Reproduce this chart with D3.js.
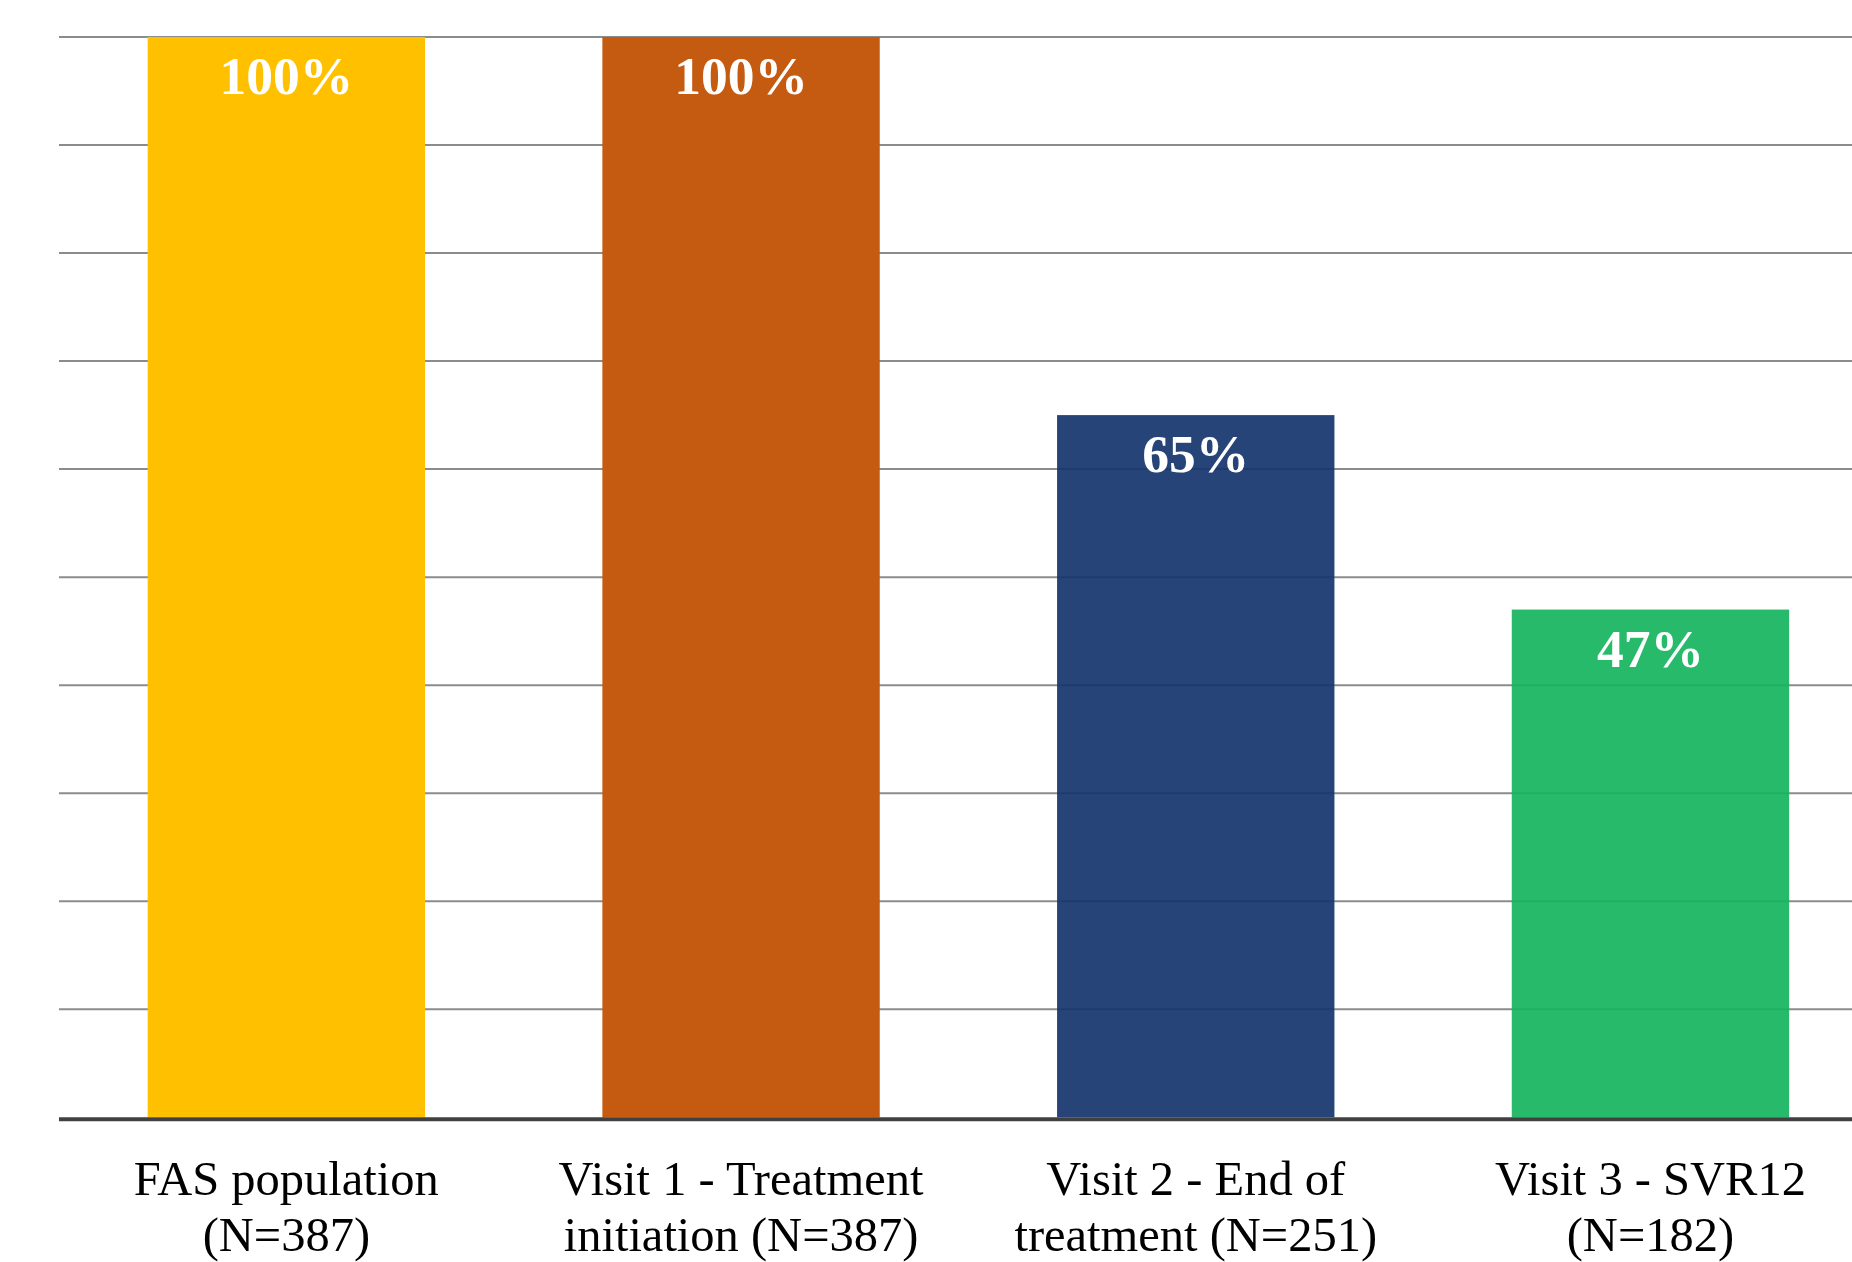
<!DOCTYPE html>
<html>
<head>
<meta charset="utf-8">
<script src="https://cdn.jsdelivr.net/npm/d3@7"></script>
<style>
html,body{margin:0;padding:0;background:#fff;overflow:hidden;}
svg{display:block;}
</style>
</head>
<body>
<script>
const categories = ["FAS population (N=387)", "Visit 1 - Treatment initiation (N=387)", "Visit 2 - End of treatment (N=251)", "Visit 3 - SVR12 (N=182)"];
const labelLines = [["FAS population", "(N=387)"], ["Visit 1 - Treatment", "initiation (N=387)"], ["Visit 2 - End of", "treatment (N=251)"], ["Visit 3 - SVR12", "(N=182)"]];
const values = [100, 100, 65, 47];
const gridTicks = [0, 10, 20, 30, 40, 50, 60, 70, 80, 90, 100];

const colors = ["#FFC000", "#C55A11", "#13346C", "#14B45D"];
const opacities = [1, 1, 0.92, 0.92];

const W = 1852, H = 1262;
const svg = d3.select("body").append("svg").attr("width", W).attr("height", H);

const left = 59, step = 454.7;
const x = d3.scaleBand().domain(categories).range([left, left + 4 * step]).paddingInner(0.39).paddingOuter(0.195);
const y = d3.scaleLinear().domain([0, 100]).range([1117.3, 37]);

// gridlines
svg.append("g").selectAll("line").data(gridTicks.filter(d => d > 0)).join("line")
  .attr("x1", left).attr("x2", W + 10)
  .attr("y1", d => y(d)).attr("y2", d => y(d))
  .attr("stroke", "#8c8c8c").attr("stroke-width", 2);

// bars
svg.append("g").selectAll("rect").data(values).join("rect")
  .attr("x", (d, i) => x(categories[i]))
  .attr("width", x.bandwidth())
  .attr("y", d => y(d))
  .attr("height", d => y(0) - y(d))
  .attr("fill", (d, i) => colors[i])
  .attr("fill-opacity", (d, i) => opacities[i]);

// baseline
svg.append("line").attr("x1", left).attr("x2", W + 10)
  .attr("y1", y(0) + 2).attr("y2", y(0) + 2)
  .attr("stroke", "#404040").attr("stroke-width", 4);

// value labels
svg.append("g").selectAll("text").data(values).join("text")
  .attr("x", (d, i) => x(categories[i]) + x.bandwidth() / 2)
  .attr("y", d => y(d) + 57)
  .attr("text-anchor", "middle")
  .attr("font-family", "'Liberation Serif', 'Times New Roman', serif")
  .attr("font-weight", "bold")
  .attr("font-size", 53.5)
  .attr("fill", "#ffffff")
  .text(d => d + "%");

// category labels
const lab = svg.append("g").selectAll("text").data(labelLines).join("text")
  .attr("x", (d, i) => x(categories[i]) + x.bandwidth() / 2)
  .attr("y", 1195)
  .attr("text-anchor", "middle")
  .attr("font-family", "'Liberation Serif', 'Times New Roman', serif")
  .attr("font-size", 48.5)
  .attr("fill", "#000000");
lab.selectAll("tspan").data(d => d).join("tspan")
  .attr("x", function() { return d3.select(this.parentNode).attr("x"); })
  .attr("dy", (d, j) => j === 0 ? 0 : 56)
  .text(d => d);
</script>
</body>
</html>
